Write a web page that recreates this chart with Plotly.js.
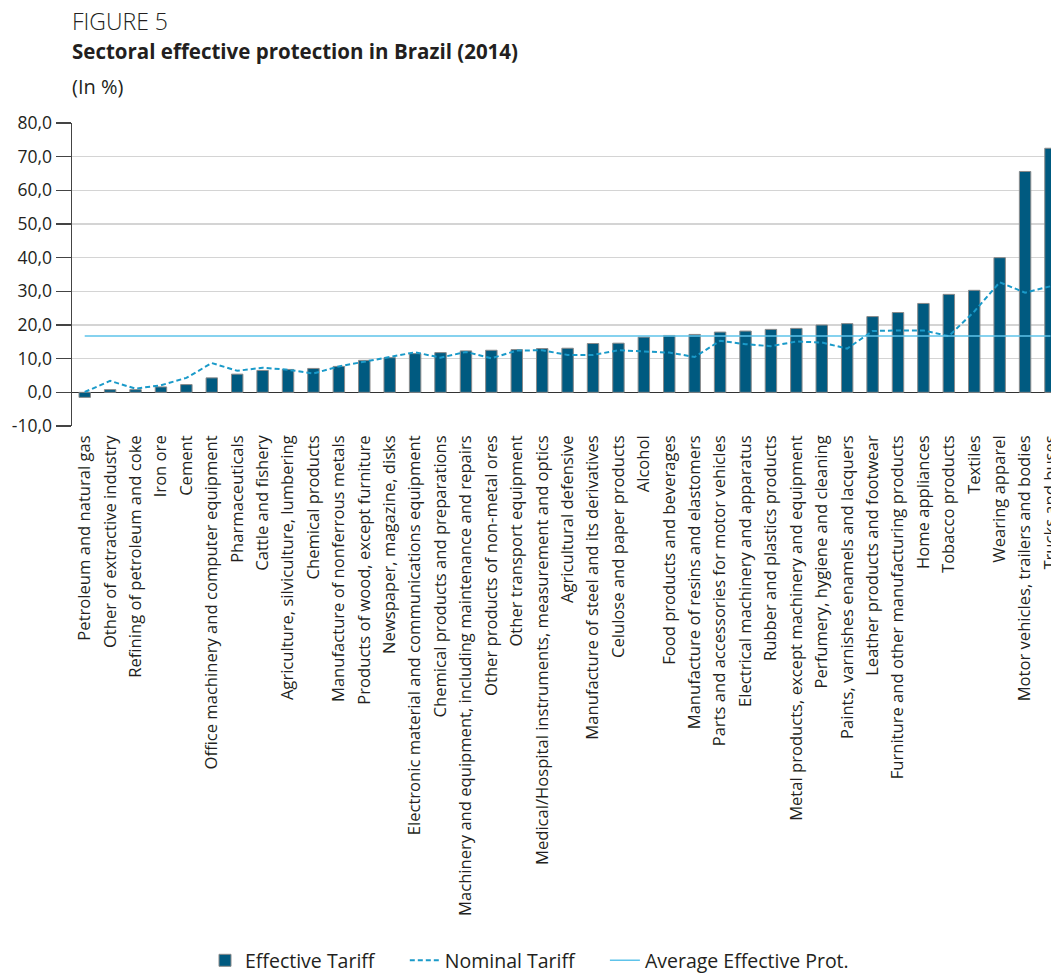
<!DOCTYPE html>
<html>
<head>
<meta charset="utf-8">
<script src="https://cdn.plot.ly/plotly-3.0.1.min.js"></script>
<style>
  html, body { margin: 0; padding: 0; background: #fff; overflow: hidden; }
  #chart { width: 1051px; height: 1000px; }
</style>
</head>
<body>
<div id="chart"></div>
<script>
const categories = [
  "Petroleum and natural gas",
  "Other of extractive industry",
  "Refining of petroleum and coke",
  "Iron ore",
  "Cement",
  "Office machinery and computer equipment",
  "Pharmaceuticals",
  "Cattle and fishery",
  "Agriculture, silviculture, lumbering",
  "Chemical products",
  "Manufacture of nonferrous metals",
  "Products of wood, except furniture",
  "Newspaper, magazine, disks",
  "Electronic material and communications equipment",
  "Chemical products and preparations",
  "Machinery and equipment, including maintenance and repairs",
  "Other products of non-metal ores",
  "Other transport equipment",
  "Medical/Hospital instruments, measurement and optics",
  "Agricultural defensive",
  "Manufacture of steel and its derivatives",
  "Celulose and paper products",
  "Alcohol",
  "Food products and beverages",
  "Manufacture of resins and elastomers",
  "Parts and accessories for motor vehicles",
  "Electrical machinery and apparatus",
  "Rubber and plastics products",
  "Metal products, except machinery and equipment",
  "Perfumery, hygiene and cleaning",
  "Paints, varnishes enamels and lacquers",
  "Leather products and footwear",
  "Furniture and other manufacturing products",
  "Home appliances",
  "Tobacco products",
  "Textiles",
  "Wearing apparel",
  "Motor vehicles, trailers and bodies",
  "Trucks and buses"
];

const effectiveTariff = [
  -1.5, 0.8, 0.8, 1.6, 2.3, 4.3, 5.4, 6.5, 6.8, 7.1,
  7.7, 9.5, 10.3, 11.5, 11.8, 12.3, 12.5, 12.7, 13.0, 13.1,
  14.5, 14.6, 16.4, 16.9, 17.2, 17.9, 18.2, 18.7, 19.0, 20.0,
  20.4, 22.5, 23.7, 26.4, 29.1, 30.3, 40.0, 65.6, 72.5
];

const nominalTariff = [
  0.1, 3.4, 1.1, 2.1, 4.3, 8.7, 6.4, 7.3, 6.7, 5.6,
  7.7, 9.2, 10.5, 11.9, 10.3, 12.0, 10.1, 12.4, 12.5, 11.1,
  11.1, 12.5, 12.1, 11.8, 10.5, 15.3, 14.3, 13.7, 15.1, 14.8,
  13.0, 18.2, 18.4, 18.4, 16.7, 24.0, 32.7, 29.6, 31.5
];

const averageEffectiveProt = 16.7;

const seriesNames = ["Effective Tariff", "Nominal Tariff", "Average Effective Prot."];

const yTickValues = [-10, 0, 10, 20, 30, 40, 50, 60, 70, 80];
const yTickLabels = ["-10,0", "0,0", "10,0", "20,0", "30,0", "40,0", "50,0", "60,0", "70,0", "80,0"];

const FONT = "'Open Sans', 'Noto Sans', sans-serif";
const TEXT = "#231f20";
const GAP = "\u00a0\u00a0\u00a0\u00a0\u00a0";

const traces = [
  {
    type: "bar",
    name: seriesNames[0] + GAP,
    x: categories,
    y: effectiveTariff,
    width: 0.45,
    marker: { color: "#005a80", line: { color: "#8a8a8a", width: 1 } }
  },
  {
    type: "scatter",
    mode: "lines",
    name: seriesNames[1] + GAP,
    x: categories,
    y: nominalTariff,
    line: { color: "#1a9ac9", width: 2, dash: "5px,3px" }
  },
  {
    type: "scatter",
    mode: "lines",
    name: seriesNames[2],
    x: [categories[0], categories[categories.length - 1]],
    y: [averageEffectiveProt, averageEffectiveProt],
    line: { color: "#5ec3ea", width: 1.5 }
  }
];

const H = 1000;
const plotTop = 123.3, plotBottom = 425.6, plotLeft = 72, plotRight = 1051;
const ph = plotBottom - plotTop;
const pw = plotRight - plotLeft;
const py = p => (plotBottom - p) / ph;
const px = p => (p - plotLeft) / pw;

const layout = {
  width: 1051,
  height: H,
  margin: { l: plotLeft, r: 1051 - plotRight, t: plotTop, b: H - plotBottom, pad: 0 },
  paper_bgcolor: "#ffffff",
  plot_bgcolor: "#ffffff",
  font: { family: FONT, color: TEXT, size: 16 },
  showlegend: true,
  xaxis: {
    type: "category",
    range: [-0.5, 38.02],
    tickangle: -90,
    tickfont: { family: FONT, size: 16.6, color: TEXT },
    ticklabelstandoff: 5,
    showgrid: false,
    showline: false,
    zeroline: false,
    ticks: "",
    automargin: false,
    fixedrange: true
  },
  yaxis: {
    range: [-10, 80],
    tickmode: "array",
    tickvals: yTickValues,
    ticktext: yTickLabels,
    tickfont: { family: FONT, size: 17.5, color: TEXT },
    showgrid: true,
    gridcolor: "#d4d4d4",
    gridwidth: 1.5,
    zeroline: true,
    zerolinecolor: "#333333",
    zerolinewidth: 1.5,
    showline: true,
    linecolor: "#444444",
    linewidth: 1.5,
    ticks: "outside",
    ticklen: 15,
    tickwidth: 1.5,
    tickcolor: "#444444",
    automargin: false,
    fixedrange: true
  },
  legend: {
    orientation: "h",
    x: px(205),
    xanchor: "left",
    y: py(959),
    yanchor: "middle",
    font: { family: FONT, size: 19.5, color: TEXT },
    bgcolor: "rgba(0,0,0,0)",
    traceorder: "normal"
  },
  title: {
    text: "<b>Sectoral effective protection in Brazil (2014)</b>",
    x: 72 / 1051,
    xanchor: "left",
    xref: "container",
    y: 1 - 52 / H,
    yanchor: "middle",
    yref: "container",
    font: { family: FONT, size: 20.5, color: TEXT }
  },
  annotations: [
    {
      text: "FIGURE 5",
      xref: "paper", yref: "paper",
      x: 0, y: py(22), xshift: -2,
      xanchor: "left", yanchor: "middle",
      showarrow: false,
      font: { family: FONT, size: 23, color: TEXT, weight: 300 }
    },
    {
      text: "(In %)",
      xref: "paper", yref: "paper",
      x: 0, y: py(87), xshift: -2,
      xanchor: "left", yanchor: "middle",
      showarrow: false,
      font: { family: FONT, size: 20, color: TEXT }
    }
  ]
};

Plotly.newPlot("chart", traces, layout, { displayModeBar: false, staticPlot: true });
</script>
</body>
</html>
